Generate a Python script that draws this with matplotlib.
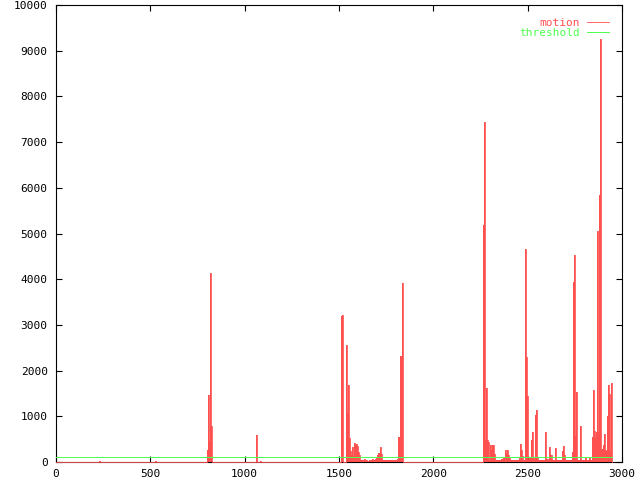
import numpy as np
import matplotlib
matplotlib.use('Agg')
import matplotlib.pyplot as plt

# motion samples (steps, value held until next sample)
frames = [0, 228, 233, 525, 530,
          800, 806, 811, 816, 822, 827,
          1062, 1067, 1081, 1086,
          1510, 1516, 1521,
          1537, 1542, 1548, 1553, 1558, 1563, 1569, 1574, 1579, 1585, 1590, 1595,
          1601, 1606, 1611, 1616, 1622, 1627, 1632, 1638, 1643, 1648, 1654, 1659,
          1664, 1670, 1675, 1680, 1686, 1691, 1696, 1702, 1707, 1712, 1718, 1723,
          1728, 1734, 1739, 1744, 1750, 1755, 1760, 1766, 1771, 1776, 1782, 1787,
          1792, 1798, 1803, 1808, 1814, 1823, 1832, 1837,
          2263, 2268, 2274, 2279, 2284, 2290, 2295, 2300, 2306, 2311, 2316, 2321,
          2327, 2332, 2337, 2343, 2348, 2353, 2360, 2369, 2375, 2380, 2385, 2390,
          2396, 2401, 2406, 2412, 2417, 2422, 2428, 2433, 2438, 2444, 2452, 2459,
          2464, 2470, 2477, 2486, 2491, 2496, 2502, 2507, 2512, 2518, 2523, 2528,
          2533, 2539, 2544, 2549, 2555, 2560, 2565, 2571, 2576, 2581, 2586, 2592,
          2597, 2602, 2607, 2613, 2618, 2624, 2629, 2634, 2640, 2645, 2650, 2656,
          2661, 2666, 2672, 2680, 2685, 2691, 2696, 2701, 2707, 2712, 2717, 2723,
          2728, 2733, 2738, 2744, 2749, 2754, 2760, 2765, 2771, 2777, 2783, 2788,
          2793, 2798, 2804, 2809, 2814, 2820, 2825, 2830, 2835, 2839, 2844, 2850,
          2855, 2860, 2866, 2871, 2876, 2882, 2887, 2892, 2898, 2903, 2908, 2913,
          2919, 2924, 2929, 2935, 2940, 2945]
motion = [0, 30, 0, 30, 0,
          255, 1458, 452, 4140, 780, 0,
          590, 0, 20, 0,
          3190, 3220, 0,
          2570, 1070, 1690, 525, 230, 160, 320, 125, 415, 370, 395, 345,
          210, 160, 50, 35, 50, 35, 65, 35, 35, 25, 25, 50,
          50, 35, 65, 50, 50, 65, 80, 160, 190, 190, 320, 180,
          50, 35, 35, 50, 35, 35, 50, 35, 50, 35, 50, 35,
          35, 50, 50, 65, 540, 2310, 3920, 0,
          5190, 7430, 490, 1610, 475, 430, 36, 380, 255, 380, 380, 180,
          36, 36, 50, 36, 36, 50, 65, 87, 87, 270, 175, 270,
          160, 87, 36, 36, 50, 50, 36, 50, 36, 36, 87, 400,
          255, 140, 51, 4665, 2290, 1450, 51, 87, 87, 475, 650, 87,
          65, 1035, 1145, 87, 51, 36, 51, 36, 51, 36, 51, 663,
          65, 65, 51, 335, 160, 160, 51, 51, 51, 306, 51, 51,
          36, 51, 51, 233, 357, 160, 51, 51, 36, 51, 51, 36,
          51, 210, 3944, 4534, 576, 1524, 51, 51, 51, 795, 51, 51,
          36, 51, 87, 51, 36, 51, 87, 51, 51, 547, 1580, 670,
          525, 650, 5060, 650, 5850, 9250, 270, 285, 380, 620, 270, 240,
          1013, 1690, 1495, 233, 1735, 0]

threshold = 100

red = '#ff5050'
green = '#50ff50'

fig = plt.figure(figsize=(6.4, 4.8), dpi=100)
ax = fig.add_axes([56/640, 1 - 462/480, 566/640, 457/480])

# dense gnuplot lines look filled, so fill under the steps too
ax.fill_between(frames, motion, step='post', color=red, lw=0, zorder=3)
ax.plot(frames, motion, drawstyle='steps-post', color=red, lw=0.6,
        label='motion', zorder=3, clip_on=False)
ax.plot([frames[0], frames[-1]], [threshold, threshold], color=green, lw=0.72,
        label='threshold', zorder=4, antialiased=False)

ax.set_xlim(0, 3000)
ax.set_ylim(0, 10000)
ax.set_xticks(np.arange(0, 3001, 500))
ax.set_yticks(np.arange(0, 10001, 1000))

font = {'family': 'DejaVu Sans Mono', 'size': 8}
ax.set_xticklabels([str(v) for v in range(0, 3001, 500)], fontdict=font)
ax.set_yticklabels([str(v) for v in range(0, 10001, 1000)], fontdict=font)
ax.tick_params(direction='in', length=4, width=0.8, top=True, right=True, pad=5)
ax.tick_params(axis='y', pad=6)
for s in ax.spines.values():
    s.set_linewidth(0.8)

ax.legend(loc='upper right', frameon=False, markerfirst=False,
          prop={'family': 'DejaVu Sans Mono', 'size': 8}, labelcolor='linecolor',
          handlelength=2.0, handletextpad=0.6, labelspacing=0.0,
          borderaxespad=0.85, borderpad=0.3)

fig.savefig('out.png', dpi=100)
